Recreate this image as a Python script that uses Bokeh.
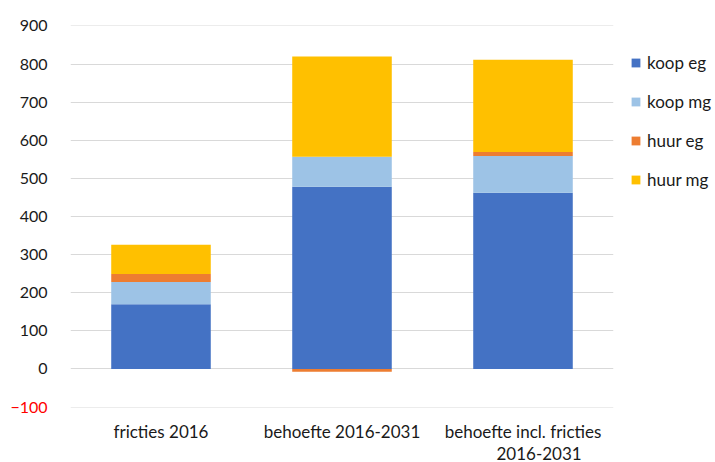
import numpy as np
from bokeh.plotting import figure
from bokeh.models import (ColumnDataSource, FactorRange, Range1d, FixedTicker,
                          Legend, LegendItem, LinearAxis, CategoricalAxis, Grid, Title)
from bokeh.embed import file_html
from bokeh.resources import INLINE

# ---- data ----
categories = ["fricties 2016", "behoefte 2016-2031", "behoefte incl. fricties"]
category_second_line = "2016-2031"
series_names = ["koop eg", "koop mg", "huur eg", "huur mg"]
koop_eg = [170, 478, 462]
koop_mg = [58, 79, 97]
huur_eg = [21, -7, 10]
huur_mg = [77, 263, 242]
y_ticks = [0, 100, 200, 300, 400, 500, 600, 700, 800, 900]
y_ticks_negative = [-100]

colors = ["#4472C4", "#9DC3E6", "#ED7D31", "#FFC000"]
FONT = "Lato"
TXT = "#1a1a1a"
FS_TICK = "16px"
FS_CAT = "17px"
FS_LEG = "17px"

series = [koop_eg, koop_mg, huur_eg, huur_mg]

p = figure(x_range=FactorRange(*categories), y_range=Range1d(-101, 901),
           frame_width=543, frame_height=382,
           output_backend="svg", toolbar_location=None,
           min_border_left=70, min_border_right=102, min_border_top=25,
           min_border_bottom=55, y_axis_location=None, x_axis_location=None)
p.outline_line_color = None
p.background_fill_color = "white"
p.border_fill_color = "white"
for g in p.grid:
    g.visible = False

pos_base = np.zeros(len(categories))
neg_base = np.zeros(len(categories))
renderers = []
for name, vals, col in zip(series_names, series, colors):
    v = np.array(vals, dtype=float)
    bottom = np.where(v >= 0, pos_base, neg_base + v)
    top = np.where(v >= 0, pos_base + v, neg_base)
    pos_base = pos_base + np.where(v >= 0, v, 0)
    neg_base = neg_base + np.where(v < 0, v, 0)
    src = ColumnDataSource(dict(x=categories, bottom=bottom, top=top))
    r = p.vbar(x="x", bottom="bottom", top="top", width=0.55, source=src,
               fill_color=col, line_color=None)
    renderers.append(r)


def style_axis(ax, size, color=TXT):
    ax.axis_line_color = None
    ax.major_tick_line_color = None
    ax.minor_tick_line_color = None
    ax.major_tick_out = 0
    ax.major_tick_in = 0
    ax.major_label_text_font = FONT
    ax.major_label_text_font_size = size
    ax.major_label_text_color = color


# y axes: red -100 axis closest to frame, main axis outside it
neg_axis = LinearAxis(ticker=FixedTicker(ticks=y_ticks_negative))
style_axis(neg_axis, FS_TICK, "#FF0000")
neg_axis.major_label_standoff = 23
main_axis = LinearAxis(ticker=FixedTicker(ticks=y_ticks))
style_axis(main_axis, FS_TICK)
main_axis.major_label_standoff = -40
p.add_layout(neg_axis, "left")
p.add_layout(main_axis, "left")

# x axis + second line of the third category label
x1 = CategoricalAxis()
style_axis(x1, FS_CAT)
x1.major_label_standoff = 13
p.add_layout(x1, "below")
p.add_layout(Title(text=category_second_line, align="left", offset=426,
                   standoff=0, text_font=FONT, text_font_size=FS_CAT,
                   text_font_style="normal", text_color=TXT), "below")

grid = Grid(dimension=1, ticker=FixedTicker(ticks=y_ticks_negative + y_ticks),
            grid_line_color="#D9D9D9", grid_line_width=1)
p.add_layout(grid, "center")

legend = Legend(items=[LegendItem(label=n, renderers=[r])
                       for n, r in zip(series_names, renderers)],
                location="top_left", orientation="vertical",
                title=" ", title_text_font_size="1px", title_standoff=9,
                border_line_color=None, background_fill_alpha=0,
                padding=0, margin=17, spacing=18,
                glyph_width=11, glyph_height=11, label_height=21,
                label_standoff=6,
                label_text_font=FONT, label_text_font_size=FS_LEG,
                label_text_color=TXT)
p.add_layout(legend, "right")

open("out.html", "w").write(file_html(p, INLINE))
